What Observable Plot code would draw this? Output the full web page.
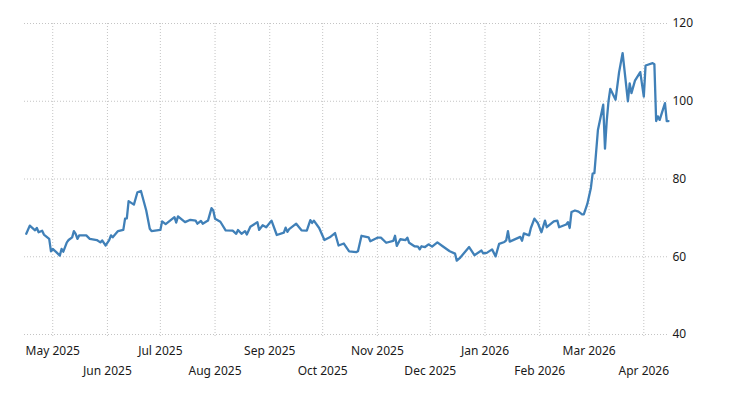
<!DOCTYPE html>
<html>
<head>
<meta charset="utf-8">
<script src="https://cdn.jsdelivr.net/npm/d3@7"></script>
<script src="https://cdn.jsdelivr.net/npm/@observablehq/plot@0.6"></script>
<style>
  html, body { margin: 0; padding: 0; background: #fff; }
  #chart { width: 730px; height: 400px; }
</style>
</head>
<body>
<div id="chart"></div>
<script>
const dates = [
"2025-04-16","2025-04-18","2025-04-21","2025-04-22","2025-04-23","2025-04-25","2025-04-26","2025-04-29","2025-04-30",
"2025-05-01","2025-05-03","2025-05-05","2025-05-06","2025-05-07","2025-05-09","2025-05-10","2025-05-12","2025-05-13","2025-05-14","2025-05-15","2025-05-16","2025-05-20","2025-05-22","2025-05-26","2025-05-28","2025-05-29","2025-05-31",
"2025-06-02","2025-06-03","2025-06-04","2025-06-07","2025-06-10","2025-06-11","2025-06-12","2025-06-13","2025-06-16","2025-06-18","2025-06-20","2025-06-23","2025-06-25","2025-06-26",
"2025-07-01","2025-07-02","2025-07-04","2025-07-09","2025-07-10","2025-07-11","2025-07-15","2025-07-18","2025-07-21","2025-07-22","2025-07-24","2025-07-25","2025-07-28","2025-07-30","2025-07-31",
"2025-08-01","2025-08-04","2025-08-07","2025-08-11","2025-08-13","2025-08-14","2025-08-16","2025-08-18","2025-08-19","2025-08-21","2025-08-25","2025-08-26","2025-08-28","2025-08-30",
"2025-09-02","2025-09-05","2025-09-09","2025-09-10","2025-09-11","2025-09-12","2025-09-16","2025-09-19","2025-09-22","2025-09-24","2025-09-25","2025-09-26","2025-09-29",
"2025-10-02","2025-10-05","2025-10-08","2025-10-10","2025-10-13","2025-10-16","2025-10-20","2025-10-21","2025-10-23","2025-10-27","2025-10-28",
"2025-11-01","2025-11-03","2025-11-06","2025-11-10","2025-11-11","2025-11-12","2025-11-14","2025-11-17","2025-11-18","2025-11-19","2025-11-22","2025-11-24","2025-11-25","2025-11-26","2025-11-28","2025-11-30",
"2025-12-02","2025-12-05","2025-12-08","2025-12-12","2025-12-15","2025-12-16","2025-12-18","2025-12-23","2025-12-26","2025-12-30","2025-12-31",
"2026-01-02","2026-01-05","2026-01-07","2026-01-09","2026-01-12","2026-01-13","2026-01-14","2026-01-15","2026-01-21","2026-01-22","2026-01-23","2026-01-26","2026-01-27","2026-01-29","2026-01-31",
"2026-02-02","2026-02-04","2026-02-05","2026-02-09","2026-02-11","2026-02-12","2026-02-16","2026-02-17","2026-02-18","2026-02-19","2026-02-21","2026-02-23","2026-02-25","2026-02-26","2026-02-28",
"2026-03-02","2026-03-03","2026-03-04","2026-03-06","2026-03-09","2026-03-10","2026-03-11","2026-03-12","2026-03-13","2026-03-16","2026-03-18","2026-03-20","2026-03-23","2026-03-24","2026-03-25","2026-03-27","2026-03-30",
"2026-04-01","2026-04-02","2026-04-06","2026-04-07","2026-04-08","2026-04-09","2026-04-10","2026-04-13","2026-04-14","2026-04-15"
];
const values = [
65.9,68.0,66.8,67.4,66.3,66.7,65.7,64.6,61.4,
62.0,61.2,60.3,62.0,61.3,63.7,64.3,65.0,66.6,65.9,64.6,65.5,65.5,64.6,64.3,63.7,64.2,62.9,
64.3,65.5,65.0,66.6,66.9,69.8,69.9,74.3,73.4,76.6,76.9,71.9,67.2,66.6,
66.9,69.1,68.4,70.2,68.8,70.4,68.9,69.5,69.3,68.5,69.2,68.5,69.3,72.5,71.9,
69.8,69.0,66.8,66.7,65.9,66.9,65.9,66.6,65.7,67.7,68.9,66.9,68.1,67.6,
69.3,65.6,66.2,67.5,66.4,67.1,68.5,66.8,66.7,69.4,68.7,69.3,67.4,
64.3,65.0,66.1,62.9,63.4,61.4,61.2,61.4,65.4,65.0,64.0,
64.9,64.9,63.6,64.1,65.4,62.8,64.5,64.3,64.9,63.6,62.7,62.6,61.9,62.7,62.5,63.2,
62.6,63.7,62.7,61.4,60.8,59.0,59.8,62.5,60.4,61.6,60.9,
61.0,61.9,60.1,63.3,63.8,64.2,66.6,63.9,65.1,64.1,66.0,65.5,67.4,69.8,68.6,
66.3,69.3,67.6,69.1,69.3,67.6,68.3,68.9,67.4,71.5,71.9,71.6,70.9,70.9,73.6,
77.7,81.4,81.5,92.6,99.1,87.8,95.0,100.0,103.2,100.4,107.5,112.4,100.0,104.6,102.1,105.3,107.5,
101.2,109.2,109.8,109.5,94.9,96.1,95.2,99.5,94.9,94.9
];
const xDomain = ["2025-04-15", "2026-04-15"];
const yTicks = [40, 60, 80, 100, 120];
const monthTicks = ["2025-05-01","2025-06-01","2025-07-01","2025-08-01","2025-09-01","2025-10-01","2025-11-01","2025-12-01","2026-01-01","2026-02-01","2026-03-01","2026-04-01"];

const data = dates.map((d, i) => ({date: new Date(d + "T00:00:00Z"), value: values[i]}));
const months = monthTicks.map(d => new Date(d + "T00:00:00Z"));
const row1 = months.filter((d, i) => i % 2 === 0);
const row2 = months.filter((d, i) => i % 2 === 1);
const fmt = d3.utcFormat("%b %Y");
const gridStyle = {stroke: "#c4c4c4", strokeOpacity: 1, strokeDasharray: "1,2", strokeWidth: 1};

const chart = Plot.plot({
  width: 730,
  height: 400,
  marginLeft: 24,
  marginRight: 62,
  marginTop: 23,
  marginBottom: 66,
  style: {fontFamily: "'Noto Sans', sans-serif", fontSize: "12px", color: "#1a1a1a", background: "#fff"},
  x: {type: "utc", domain: xDomain.map(d => new Date(d + "T00:00:00Z"))},
  y: {domain: [40, 120]},
  marks: [
    Plot.gridY(yTicks, gridStyle),
    Plot.gridX(months, {...gridStyle, insetBottom: -4}),
    Plot.axisY(yTicks, {anchor: "right", tickSize: 0, tickPadding: 4, label: null, tickFormat: d => String(d)}),
    Plot.axisX(row1, {anchor: "bottom", tickSize: 0, tickPadding: 12, label: null, tickFormat: fmt}),
    Plot.axisX(row2, {anchor: "bottom", tickSize: 0, tickPadding: 32, label: null, tickFormat: fmt}),
    Plot.lineY(data, {x: "date", y: "value", stroke: "#4080b8", strokeWidth: 2.3})
  ]
});
document.getElementById("chart").appendChild(chart);
</script>
</body>
</html>
